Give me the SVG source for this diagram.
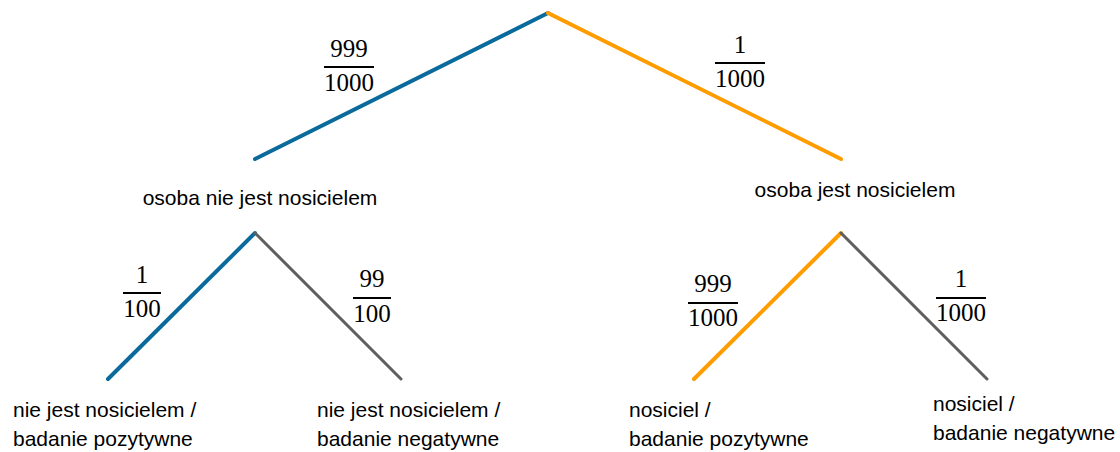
<svg xmlns="http://www.w3.org/2000/svg" width="1120" height="452" viewBox="0 0 1120 452">
<style>
.blue{stroke:#0b6a9c;stroke-width:4;fill:none;stroke-linecap:round}
.orange{stroke:#ff9c00;stroke-width:4;fill:none;stroke-linecap:round}
.gray{stroke:#5f5f5f;stroke-width:3;fill:none;stroke-linecap:round}
.lbl{font-family:"Liberation Sans",Arial,sans-serif;font-size:21px;fill:#000}
.num{font-family:"Liberation Serif","Times New Roman",serif;font-size:25px;fill:#000;text-anchor:middle}
.bar{stroke:#000;stroke-width:2}
</style>
<rect width="1120" height="452" fill="#fff"/>
<g id="connectors">
<line class="blue" x1="548" y1="13" x2="255" y2="159"/>
<line class="orange" x1="548" y1="13" x2="841" y2="159"/>
<line class="blue" x1="255" y1="233" x2="108" y2="379"/>
<line class="gray" x1="255" y1="233" x2="401" y2="379"/>
<line class="orange" x1="841" y1="233" x2="694" y2="379"/>
<line class="gray" x1="841" y1="233" x2="987" y2="379"/>
</g>
<g id="frac-top-left">
<text class="num" x="349" y="57">999</text>
<line class="bar" x1="324" y1="67" x2="374" y2="67"/>
<text class="num" x="349" y="91">1000</text>
</g>
<g id="frac-top-right">
<text class="num" x="740" y="53">1</text>
<line class="bar" x1="715" y1="63" x2="765" y2="63"/>
<text class="num" x="740" y="87">1000</text>
</g>
<g id="frac-l-l">
<text class="num" x="142" y="283">1</text>
<line class="bar" x1="123" y1="293" x2="161" y2="293"/>
<text class="num" x="142" y="317">100</text>
</g>
<g id="frac-l-r">
<text class="num" x="372" y="287">99</text>
<line class="bar" x1="353" y1="298" x2="391" y2="298"/>
<text class="num" x="372" y="322">100</text>
</g>
<g id="frac-r-l">
<text class="num" x="713" y="292">999</text>
<line class="bar" x1="688" y1="303" x2="738" y2="303"/>
<text class="num" x="713" y="326">1000</text>
</g>
<g id="frac-r-r">
<text class="num" x="961" y="287">1</text>
<line class="bar" x1="936" y1="298" x2="986" y2="298"/>
<text class="num" x="961" y="321">1000</text>
</g>
<g id="node-nie">
<text class="lbl" x="260" y="205" text-anchor="middle">osoba nie jest nosicielem</text>
</g>
<g id="node-jest">
<text class="lbl" x="855" y="197" text-anchor="middle">osoba jest nosicielem</text>
</g>
<g id="leaf1">
<text class="lbl" x="13" y="417">nie jest nosicielem /</text>
<text class="lbl" x="13" y="446">badanie pozytywne</text>
</g>
<g id="leaf2">
<text class="lbl" x="317" y="417">nie jest nosicielem /</text>
<text class="lbl" x="317" y="446">badanie negatywne</text>
</g>
<g id="leaf3">
<text class="lbl" x="629" y="417">nosiciel /</text>
<text class="lbl" x="629" y="446">badanie pozytywne</text>
</g>
<g id="leaf4">
<text class="lbl" x="933" y="411">nosiciel /</text>
<text class="lbl" x="933" y="440">badanie negatywne</text>
</g>
</svg>
